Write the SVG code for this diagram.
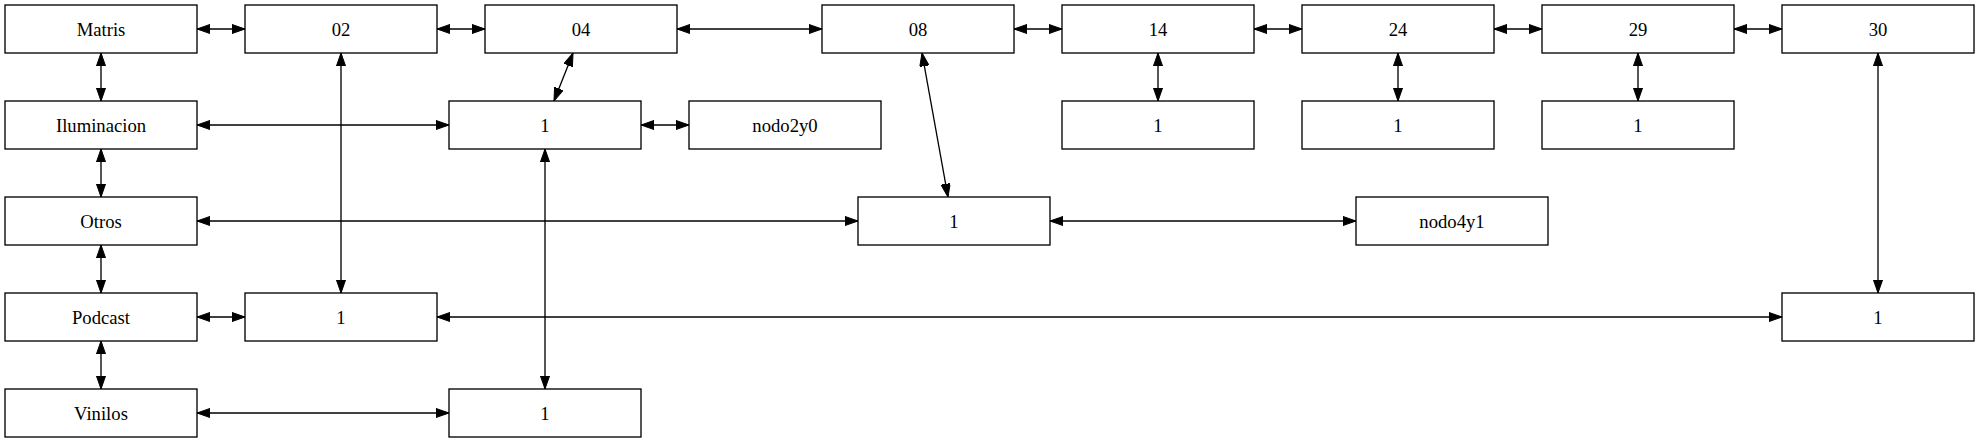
<svg xmlns="http://www.w3.org/2000/svg" width="1980" height="443" viewBox="0 0 1980 443">
<style>
.n rect{fill:#fff;stroke:#000;stroke-width:1.33}
.n text{font-family:'Liberation Serif','Times New Roman',serif;font-size:18.67px;text-anchor:middle;fill:#000}
.e line{stroke:#000;stroke-width:1.33;marker-start:url(#ah);marker-end:url(#ah)}
</style>
<defs>
<marker id="ah" viewBox="0 0 13.33 9.33" refX="13.33" refY="4.67" markerWidth="13.33" markerHeight="9.33" markerUnits="userSpaceOnUse" orient="auto-start-reverse">
<path d="M0,0 L13.33,4.67 L0,9.33 z" fill="#000" stroke="#000" stroke-width="1"/>
</marker>
</defs>
<rect width="1980" height="443" fill="#fff"/>
<g class="e" id="edges">
<line x1="197" y1="29" x2="245" y2="29"/>
<line x1="437" y1="29" x2="485" y2="29"/>
<line x1="677" y1="29" x2="822" y2="29"/>
<line x1="1014" y1="29" x2="1062" y2="29"/>
<line x1="1254" y1="29" x2="1302" y2="29"/>
<line x1="1494" y1="29" x2="1542" y2="29"/>
<line x1="1734" y1="29" x2="1782" y2="29"/>
<line x1="101" y1="53" x2="101" y2="101"/>
<line x1="101" y1="149" x2="101" y2="197"/>
<line x1="101" y1="245" x2="101" y2="293"/>
<line x1="101" y1="341" x2="101" y2="389"/>
<line x1="197" y1="125" x2="449" y2="125"/>
<line x1="641" y1="125" x2="689" y2="125"/>
<line x1="573" y1="53" x2="554" y2="101"/>
<line x1="1158" y1="53" x2="1158" y2="101"/>
<line x1="1398" y1="53" x2="1398" y2="101"/>
<line x1="1638" y1="53" x2="1638" y2="101"/>
<line x1="341" y1="53" x2="341" y2="293"/>
<line x1="922" y1="53" x2="948" y2="197"/>
<line x1="197" y1="221" x2="858" y2="221"/>
<line x1="1050" y1="221" x2="1356" y2="221"/>
<line x1="197" y1="317" x2="245" y2="317"/>
<line x1="437" y1="317" x2="1782" y2="317"/>
<line x1="1878" y1="53" x2="1878" y2="293"/>
<line x1="545" y1="149" x2="545" y2="389"/>
<line x1="197" y1="413" x2="449" y2="413"/>
</g>
<g class="n" id="matris"><rect x="5" y="5" width="192" height="48"/><text x="101" y="35.5">Matris</text></g>
<g class="n" id="n02"><rect x="245" y="5" width="192" height="48"/><text x="341" y="35.5">02</text></g>
<g class="n" id="n04"><rect x="485" y="5" width="192" height="48"/><text x="581" y="35.5">04</text></g>
<g class="n" id="n08"><rect x="822" y="5" width="192" height="48"/><text x="918" y="35.5">08</text></g>
<g class="n" id="n14"><rect x="1062" y="5" width="192" height="48"/><text x="1158" y="35.5">14</text></g>
<g class="n" id="n24"><rect x="1302" y="5" width="192" height="48"/><text x="1398" y="35.5">24</text></g>
<g class="n" id="n29"><rect x="1542" y="5" width="192" height="48"/><text x="1638" y="35.5">29</text></g>
<g class="n" id="n30"><rect x="1782" y="5" width="192" height="48"/><text x="1878" y="35.5">30</text></g>
<g class="n" id="iluminacion"><rect x="5" y="101" width="192" height="48"/><text x="101" y="131.5">Iluminacion</text></g>
<g class="n" id="ilum1"><rect x="449" y="101" width="192" height="48"/><text x="545" y="131.5">1</text></g>
<g class="n" id="nodo2y0"><rect x="689" y="101" width="192" height="48"/><text x="785" y="131.5">nodo2y0</text></g>
<g class="n" id="n14_1"><rect x="1062" y="101" width="192" height="48"/><text x="1158" y="131.5">1</text></g>
<g class="n" id="n24_1"><rect x="1302" y="101" width="192" height="48"/><text x="1398" y="131.5">1</text></g>
<g class="n" id="n29_1"><rect x="1542" y="101" width="192" height="48"/><text x="1638" y="131.5">1</text></g>
<g class="n" id="otros"><rect x="5" y="197" width="192" height="48"/><text x="101" y="227.5">Otros</text></g>
<g class="n" id="otros1"><rect x="858" y="197" width="192" height="48"/><text x="954" y="227.5">1</text></g>
<g class="n" id="nodo4y1"><rect x="1356" y="197" width="192" height="48"/><text x="1452" y="227.5">nodo4y1</text></g>
<g class="n" id="podcast"><rect x="5" y="293" width="192" height="48"/><text x="101" y="323.5">Podcast</text></g>
<g class="n" id="podcast1"><rect x="245" y="293" width="192" height="48"/><text x="341" y="323.5">1</text></g>
<g class="n" id="podcast30"><rect x="1782" y="293" width="192" height="48"/><text x="1878" y="323.5">1</text></g>
<g class="n" id="vinilos"><rect x="5" y="389" width="192" height="48"/><text x="101" y="419.5">Vinilos</text></g>
<g class="n" id="vinilos1"><rect x="449" y="389" width="192" height="48"/><text x="545" y="419.5">1</text></g>
</svg>
